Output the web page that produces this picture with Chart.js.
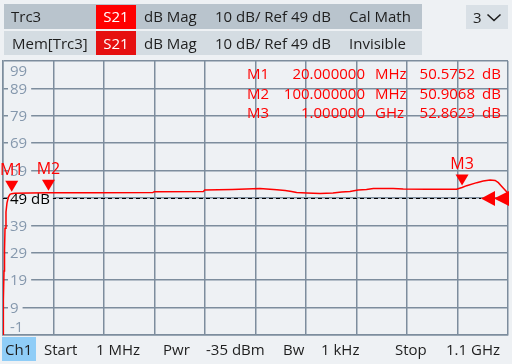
<!DOCTYPE html>
<html><head><meta charset="utf-8">
<script src="https://cdn.jsdelivr.net/npm/chart.js@4/dist/chart.umd.min.js"></script>
<style>
html,body{margin:0;padding:0;background:#eef1f4;width:512px;height:364px;overflow:hidden;font-family:"Open Sans",sans-serif;}
#wrap{position:absolute;left:0;top:0;width:512px;height:364px;}
.box{position:absolute;}
.t{position:absolute;font-size:15px;color:#1e1e1e;white-space:nowrap;line-height:24px;}
</style>
</head><body>
<div id="wrap"><canvas id="c" width="512" height="364"></canvas></div>
<div class="box" style="left:4px;top:4px;width:418px;height:25px;background:#b9c4cd"></div>
<div class="box" style="left:4px;top:31px;width:418px;height:24px;background:#d4dce2"></div>
<div class="box" style="left:96px;top:5px;width:40px;height:24px;background:#ff0000"></div>
<div class="box" style="left:96px;top:31px;width:40px;height:24px;background:#e61010"></div>
<div class="t" style="left:11px;top:4px">Trc3</div>
<div class="t" style="left:96px;top:4px;width:40px;text-align:center;color:#fff">S21</div>
<div class="t" style="left:144px;top:4px">dB Mag</div>
<div class="t" style="left:215px;top:4px">10 dB/ Ref 49 dB</div>
<div class="t" style="left:349px;top:4px">Cal Math</div>
<div class="t" style="left:12px;top:31px">Mem[Trc3]</div>
<div class="t" style="left:96px;top:31px;width:40px;text-align:center;color:#fff">S21</div>
<div class="t" style="left:144px;top:31px">dB Mag</div>
<div class="t" style="left:215px;top:31px">10 dB/ Ref 49 dB</div>
<div class="t" style="left:349px;top:31px">Invisible</div>
<div class="box" style="left:466px;top:5px;width:42px;height:24px;background:#d9e0e6"></div>
<div class="t" style="left:473px;top:5px">3</div>
<svg class="box" style="left:486px;top:13px" width="17" height="10"><polyline points="1.5,1.5 8,7.5 14.5,1.5" fill="none" stroke="#1e1e1e" stroke-width="1.6"/></svg>
<div class="box" style="left:2px;top:337px;width:34px;height:24px;background:#8fcdf7"></div>
<div class="t" style="left:5px;top:337px">Ch1</div>
<div class="t" style="left:44px;top:337px">Start</div>
<div class="t" style="left:96px;top:337px">1 MHz</div>
<div class="t" style="left:163px;top:337px">Pwr</div>
<div class="t" style="left:206px;top:337px">-35 dBm</div>
<div class="t" style="left:283px;top:337px">Bw</div>
<div class="t" style="left:321px;top:337px">1 kHz</div>
<div class="t" style="left:395px;top:337px">Stop</div>
<div class="t" style="left:446px;top:337px">1.1 GHz</div>
<script>
// ---- data ----
const freqMHz = [1, 1.5, 2.1, 3.2, 4.3, 5.4, 7.5, 9.7, 13, 16.2, 20, 26, 60, 100, 200, 327, 330, 437, 440, 500, 560, 582, 597, 615, 629, 640, 662, 691, 719, 738, 756, 774, 792, 807, 850, 872, 923, 988, 1000, 1010, 1032, 1046, 1061, 1072, 1079, 1086, 1097, 1100];
const s21dB   = [-5, -1, 11.8, 22.4, 30, 38, 43.9, 47.2, 49.4, 50.3, 50.58, 50.7, 50.8, 50.9, 50.95, 51.0, 51.3, 51.4, 51.9, 52.1, 52.5, 52.2, 52.0, 51.7, 51.4, 51.0, 50.8, 50.6, 50.8, 51.2, 51.4, 51.9, 52.1, 52.5, 52.5, 52.3, 52.2, 52.2, 52.86, 53.5, 54.6, 55.2, 55.6, 55.4, 54.6, 53.3, 51.3, 50.5];
const yTickLabels = [99, 89, 79, 69, 59, 39, 29, 19, 9, -1];
const markerNames = ['M1', 'M2', 'M3'];
const markerFreqMHz = [20, 100, 1000];
const markerFreqText = ['20.000000', '100.000000', '1.000000'];
const markerFreqUnit = ['MHz', 'MHz', 'GHz'];
const markerValdB = [50.5752, 50.9068, 52.8623];
const refLevel = 49;
const startMHz = 1, stopMHz = 1100, yMin = -1, yMax = 99;

const GRID = '#7d8d9d', BG = '#eef1f4', RED = '#ff0000';
const FONT = '"Open Sans", sans-serif';

const overlay = {
  id: 'overlay',
  beforeDatasetsDraw(chart) {
    const ctx = chart.ctx, a = chart.chartArea, ys = chart.scales.y;
    ctx.save();
    ctx.font = '15px ' + FONT;
    ctx.textAlign = 'left';
    yTickLabels.forEach(v => {
      let y = ys.getPixelForValue(v);
      let base = 'middle';
      if (v === yMax) { y = a.top + 10; }
      if (v === yMin) { y = a.bottom - 8; }
      ctx.textBaseline = base;
      const w = ctx.measureText(String(v)).width;
      ctx.fillStyle = BG;
      ctx.fillRect(a.left + 5, y - 2, w + 6, 4);
      ctx.fillStyle = '#8598ad';
      ctx.fillText(String(v), a.left + 7, y + 1);
    });
    // reference line
    const ry = Math.round(ys.getPixelForValue(refLevel)) + 0.5;
    ctx.strokeStyle = '#000';
    ctx.lineWidth = 1;
    ctx.setLineDash([4, 3]);
    ctx.beginPath(); ctx.moveTo(a.left, ry); ctx.lineTo(a.right - 27, ry); ctx.stroke();
    ctx.setLineDash([]);
    ctx.font = '15px ' + FONT;
    const lbl = refLevel + ' dB';
    const lw = ctx.measureText(lbl).width;
    ctx.fillStyle = BG;
    ctx.fillRect(a.left + 5, ry - 3, lw + 5, 6);
    ctx.fillStyle = '#000';
    ctx.textBaseline = 'middle';
    ctx.fillText(lbl, a.left + 7, ry + 1);
    ctx.restore();
  },
  afterDatasetsDraw(chart) {
    const ctx = chart.ctx, a = chart.chartArea, xs = chart.scales.x, ys = chart.scales.y;
    ctx.save();
    // markers
    markerNames.forEach((n, i) => {
      const x = xs.getPixelForValue(markerFreqMHz[i]);
      const tip = ys.getPixelForValue(markerValdB[i]) - 2;
      const top = tip - 11;
      ctx.fillStyle = RED;
      ctx.beginPath(); ctx.moveTo(x - 6.5, top); ctx.lineTo(x + 6.5, top); ctx.lineTo(x, tip); ctx.closePath(); ctx.fill();
      ctx.font = '16px ' + FONT;
      ctx.textAlign = 'center'; ctx.textBaseline = 'middle';
      ctx.fillText(n, x, top - 10);
    });
    // ref arrows
    const ry = ys.getPixelForValue(refLevel) + 0.5;
    ctx.fillStyle = RED;
    [[481, 495], [494, 509]].forEach(([tx, bx]) => {
      ctx.beginPath(); ctx.moveTo(tx, ry); ctx.lineTo(bx, ry - 7.5); ctx.lineTo(bx, ry + 7.5); ctx.closePath(); ctx.fill();
    });
    // marker table
    ctx.font = '15px ' + FONT;
    ctx.textBaseline = 'middle';
    const rows = [75, 94.5, 114];
    markerNames.forEach((n, i) => {
      const y = rows[i];
      ctx.textAlign = 'left'; ctx.fillText(n, 247, y);
      ctx.textAlign = 'right'; ctx.fillText(markerFreqText[i], 365, y);
      ctx.textAlign = 'left'; ctx.fillText(markerFreqUnit[i], 375, y);
      ctx.textAlign = 'right'; ctx.fillText(markerValdB[i].toFixed(4), 475, y);
      ctx.textAlign = 'left'; ctx.fillText('dB', 482, y);
    });
    ctx.restore();
  }
};

new Chart(document.getElementById('c'), {
  type: 'line',
  data: {
    datasets: [{
      data: freqMHz.map((f, i) => ({ x: f, y: s21dB[i] })),
      borderColor: RED, borderWidth: 1.5, pointRadius: 0, tension: 0, fill: false
    }]
  },
  options: {
    responsive: false, animation: false, events: [],
    layout: { padding: { left: 3, right: 4, top: 61, bottom: 29 } },
    plugins: { legend: { display: false }, tooltip: { enabled: false } },
    scales: {
      x: {
        type: 'linear', min: startMHz, max: stopMHz,
        afterBuildTicks: s => { s.ticks = Array.from({ length: 11 }, (_, i) => ({ value: startMHz + i * (stopMHz - startMHz) / 10 })); },
        ticks: { display: false },
        grid: { color: GRID, lineWidth: 1.5, drawTicks: false },
        border: { display: true, color: GRID, width: 1.5 }
      },
      y: {
        type: 'linear', min: yMin, max: yMax,
        afterBuildTicks: s => { s.ticks = Array.from({ length: 11 }, (_, i) => ({ value: yMin + i * 10 })); },
        ticks: { display: false },
        grid: { color: GRID, lineWidth: 1.5, drawTicks: false },
        border: { display: true, color: GRID, width: 1.5 }
      }
    }
  },
  plugins: [overlay]
});
</script>
</body></html>
